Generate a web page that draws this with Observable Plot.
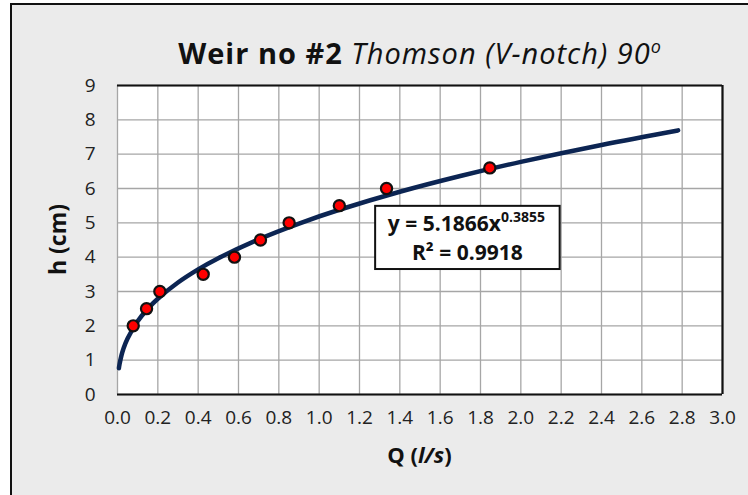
<!DOCTYPE html>
<html>
<head>
<meta charset="utf-8">
<script src="https://cdn.jsdelivr.net/npm/d3@7"></script>
<script src="https://cdn.jsdelivr.net/npm/@observablehq/plot@0.6"></script>
<style>
  html, body { margin: 0; padding: 0; background: #ffffff; }
  #wrap { position: relative; width: 748px; height: 495px; overflow: hidden; }
  #panel { position: absolute; left: 10px; top: 3px; width: 760px; height: 520px;
           background: #ebebeb; border-left: 2.5px solid #111; border-top: 2.5px solid #111; }
  #chart { position: absolute; left: 0; top: 0; }
</style>
</head>
<body>
<div id="wrap"><div id="panel"></div><div id="chart"></div></div>
<script>
// Measured points
const flowQ = [0.078, 0.144, 0.21, 0.425, 0.58, 0.709, 0.851, 1.10, 1.334, 1.846];
const headH = [2.0, 2.5, 3.0, 3.5, 4.0, 4.5, 5.0, 5.5, 6.0, 6.6];
// Power trendline
const trendQ = [0.007, 0.01, 0.02, 0.03, 0.05, 0.1, 0.15, 0.2, 0.3, 0.4, 0.5, 0.7, 0.9, 1.1, 1.4, 1.7, 2.0, 2.4, 2.78];
const trendH = [0.766, 0.879, 1.148, 1.342, 1.634, 2.135, 2.496, 2.789, 3.261, 3.643, 3.970, 4.520, 4.980, 5.381, 5.905, 6.364, 6.775, 7.269, 7.693];
// Axis ticks
const xTicks = [0, 0.2, 0.4, 0.6, 0.8, 1.0, 1.2, 1.4, 1.6, 1.8, 2.0, 2.2, 2.4, 2.6, 2.8, 3.0];
const yTicks = [0, 1, 2, 3, 4, 5, 6, 7, 8, 9];
// Texts
const titleBold = "Weir no #2";
const titleItalic = "Thomson (V-notch) 90";
const titleSup = "o";
const eqMain = "y = 5.1866x";
const eqExp = "0.3855";
const eqR2 = "R² = 0.9918";

const points = flowQ.map((q, i) => ({q, h: headH[i]}));
const trend = trendQ.map((q, i) => ({q, h: trendH[i]}));

const font = "'Open Sans', 'Noto Sans', sans-serif";

const plot = Plot.plot({
  width: 748,
  height: 495,
  marginLeft: 117,
  marginRight: 26,
  marginTop: 85,
  marginBottom: 101,
  style: {background: "transparent", fontFamily: font, fontSize: "20px", color: "#222"},
  x: {domain: [0, 3]},
  y: {domain: [0, 9]},
  marks: [
    Plot.frame({fill: "white", stroke: "none"}),
    Plot.gridX(xTicks, {stroke: "#a6a6a6", strokeOpacity: 1, strokeWidth: 1.3}),
    Plot.gridY(yTicks, {stroke: "#a6a6a6", strokeOpacity: 1, strokeWidth: 1.3}),
    Plot.ruleY([0, 9], {stroke: "#111", strokeWidth: 2.2}),
    Plot.ruleX([3], {stroke: "#111", strokeWidth: 2.2}),
    Plot.line(trend, {x: "q", y: "h", stroke: "#0c2553", strokeWidth: 4.5, curve: "natural"}),
    Plot.dot(points, {x: "q", y: "h", r: 5.6, fill: "#ff0000", stroke: "#111", strokeWidth: 2.2}),
    Plot.axisX(xTicks, {tickSize: 0, tickPadding: 16, tickFormat: d => d.toFixed(1), label: null, fill: "#222", fontSize: 19}),
    Plot.axisY(yTicks, {tickSize: 0, tickPadding: 22, label: null, fill: "#222", fontSize: 19})
  ]
});
document.getElementById("chart").appendChild(plot);

const svg = d3.select(plot);
svg.selectAll("g[aria-label='x-axis tick label'] text, g[aria-label='y-axis tick label'] text")
  .attr("font-size", 19).style("font-size", "19px");
const sx = plot.scale("x"), sy = plot.scale("y");

// Title
const t = svg.append("text")
  .attr("x", 420).attr("y", 64)
  .attr("text-anchor", "middle")
  .attr("font-family", font).attr("font-size", 29).attr("fill", "#111")
  .attr("letter-spacing", 1);
t.append("tspan").attr("font-weight", "bold").text(titleBold + " ");
t.append("tspan").attr("font-style", "italic").text(titleItalic);
t.append("tspan").attr("font-style", "italic").attr("font-size", 18).attr("dy", -11).text(titleSup);

// Axis titles
const xt = svg.append("text")
  .attr("x", (sx.apply(0) + sx.apply(3)) / 2).attr("y", 463)
  .attr("text-anchor", "middle")
  .attr("font-family", font).attr("font-size", 22).attr("font-weight", "bold").attr("fill", "#111");
xt.append("tspan").text("Q (");
xt.append("tspan").attr("font-style", "italic").text("l/s");
xt.append("tspan").text(")");

svg.append("text")
  .attr("transform", `translate(66,${(sy.apply(0) + sy.apply(9)) / 2}) rotate(-90)`)
  .attr("text-anchor", "middle")
  .attr("font-family", font).attr("font-size", 23).attr("font-weight", "bold").attr("fill", "#111")
  .text("h (cm)");

// Trendline equation label
const bx0 = sx.apply(1.28), bx1 = sx.apply(2.195);
const by0 = sy.apply(5.48), by1 = sy.apply(3.64);
svg.append("rect")
  .attr("x", bx0).attr("y", by0).attr("width", bx1 - bx0).attr("height", by1 - by0)
  .attr("fill", "white").attr("stroke", "#111").attr("stroke-width", 2);
const cx = (bx0 + bx1) / 2;
const e1 = svg.append("text")
  .attr("x", cx - 1).attr("y", by0 + 25)
  .attr("text-anchor", "middle")
  .attr("font-family", font).attr("font-size", 21).attr("font-weight", "bold").attr("fill", "#111");
e1.append("tspan").text(eqMain);
e1.append("tspan").attr("font-size", 14).attr("dy", -9).text(eqExp);
svg.append("text")
  .attr("x", cx).attr("y", by0 + 54)
  .attr("text-anchor", "middle")
  .attr("font-family", font).attr("font-size", 21).attr("font-weight", "bold").attr("fill", "#111")
  .text(eqR2);
</script>
</body>
</html>
